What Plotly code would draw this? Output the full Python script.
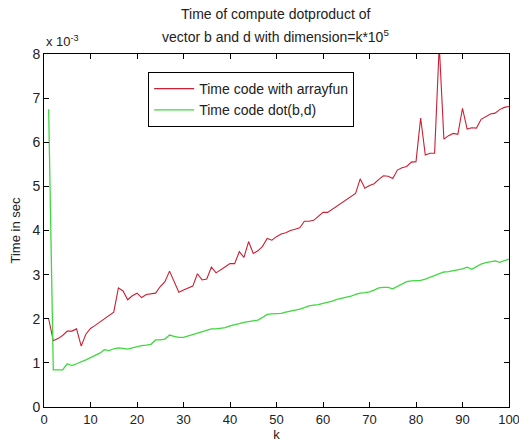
import plotly.graph_objects as go

# Problem size index k (vector dimension = k * 1e5)
k = list(range(1, 101))

# Elapsed time in units of 1e-3 s
time_arrayfun = [
    2.00, 1.50, 1.55, 1.62, 1.72, 1.72, 1.77, 1.38, 1.65, 1.78,
    1.85, 1.92, 2.00, 2.08, 2.15, 2.70, 2.63, 2.43, 2.52, 2.58,
    2.48, 2.55, 2.56, 2.58, 2.73, 2.84, 3.08, 2.85, 2.60, 2.65,
    2.70, 2.74, 3.02, 2.88, 2.90, 3.17, 3.04, 3.12, 3.18, 3.25,
    3.25, 3.52, 3.39, 3.75, 3.48, 3.54, 3.64, 3.82, 3.78, 3.86,
    3.92, 3.95, 4.00, 4.03, 4.06, 4.21, 4.21, 4.23, 4.32, 4.41,
    4.41, 4.48, 4.56, 4.63, 4.70, 4.76, 4.84, 5.17, 4.96, 5.02,
    5.06, 5.16, 5.24, 5.23, 5.18, 5.37, 5.42, 5.45, 5.55, 5.56,
    6.55, 5.71, 5.75, 5.75, 8.20, 6.07, 6.15, 6.20, 6.18, 6.77,
    6.30, 6.33, 6.32, 6.52, 6.58, 6.64, 6.66, 6.74, 6.79, 6.81,
]

time_dot = [
    6.75, 0.84, 0.84, 0.84, 0.98, 0.94, 0.98, 1.02, 1.07, 1.12,
    1.17, 1.22, 1.30, 1.28, 1.32, 1.34, 1.33, 1.31, 1.34, 1.37,
    1.39, 1.40, 1.42, 1.52, 1.52, 1.54, 1.63, 1.60, 1.58, 1.58,
    1.61, 1.64, 1.67, 1.70, 1.73, 1.77, 1.77, 1.78, 1.80, 1.84,
    1.86, 1.89, 1.92, 1.94, 1.96, 1.97, 2.03, 2.10, 2.11, 2.11,
    2.12, 2.15, 2.17, 2.19, 2.22, 2.25, 2.29, 2.31, 2.32, 2.35,
    2.37, 2.40, 2.44, 2.46, 2.48, 2.51, 2.55, 2.58, 2.59, 2.61,
    2.65, 2.70, 2.71, 2.71, 2.68, 2.73, 2.78, 2.84, 2.86, 2.86,
    2.87, 2.90, 2.94, 2.98, 3.02, 3.06, 3.07, 3.09, 3.10, 3.13,
    3.17, 3.12, 3.18, 3.24, 3.27, 3.29, 3.31, 3.28, 3.31, 3.35,
]

x_ticks = list(range(0, 101, 10))
y_ticks = list(range(0, 9))

title_lines = [
    "Time of compute dotproduct of",
    "vector b and d with dimension=k*10<sup>5</sup>",
]

FONT = "Liberation Sans, Arial, sans-serif"

fig = go.Figure()
fig.add_trace(go.Scatter(
    x=k, y=time_arrayfun, mode="lines", name="Time code with arrayfun",
    line=dict(color="#cc1f33", width=1.1),
))
fig.add_trace(go.Scatter(
    x=k, y=time_dot, mode="lines", name="Time code dot(b,d)",
    line=dict(color="#3fd83f", width=1.3),
))

axis_common = dict(
    showgrid=False, zeroline=False, showline=True, linecolor="black",
    linewidth=1, mirror="ticks", ticks="inside", ticklen=5,
    tickcolor="black", ticklabeloverflow="allow",
)

annotations = [
    dict(text=title_lines[0], xref="paper", yref="paper", x=0.497, y=1.113,
         xanchor="center", yanchor="middle", showarrow=False,
         font=dict(size=14)),
    dict(text=title_lines[1], xref="paper", yref="paper", x=0.497, y=1.05,
         xanchor="center", yanchor="middle", showarrow=False,
         font=dict(size=14)),
    dict(text="x 10<sup>-3</sup>", xref="paper", yref="paper",
         x=0, y=1.008, xanchor="left", yanchor="bottom", showarrow=False,
         font=dict(size=13)),
]

fig.update_layout(
    width=519, height=442,
    paper_bgcolor="white", plot_bgcolor="white",
    margin=dict(l=44, r=10, t=54, b=35),
    font=dict(family=FONT, size=13, color="#222"),
    xaxis=dict(
        range=[0, 100], tickvals=x_ticks, ticktext=[str(v) for v in x_ticks],
        tickfont=dict(size=13, color="#222"),
        title=dict(text="k", standoff=2, font=dict(size=13)),
        automargin=False, **axis_common,
    ),
    yaxis=dict(
        range=[0, 8], tickvals=y_ticks, ticktext=[str(v) for v in y_ticks],
        tickfont=dict(size=14, color="#222"),
        title=dict(text="Time in sec", standoff=8, font=dict(size=13)),
        automargin=False, **axis_common,
    ),
    legend=dict(
        x=0.224, y=0.949, xanchor="left", yanchor="top",
        bgcolor="white", bordercolor="black", borderwidth=1,
        font=dict(size=14), tracegroupgap=0, itemwidth=40,
    ),
    showlegend=True,
    annotations=annotations,
)

fig.write_html("out.html")
